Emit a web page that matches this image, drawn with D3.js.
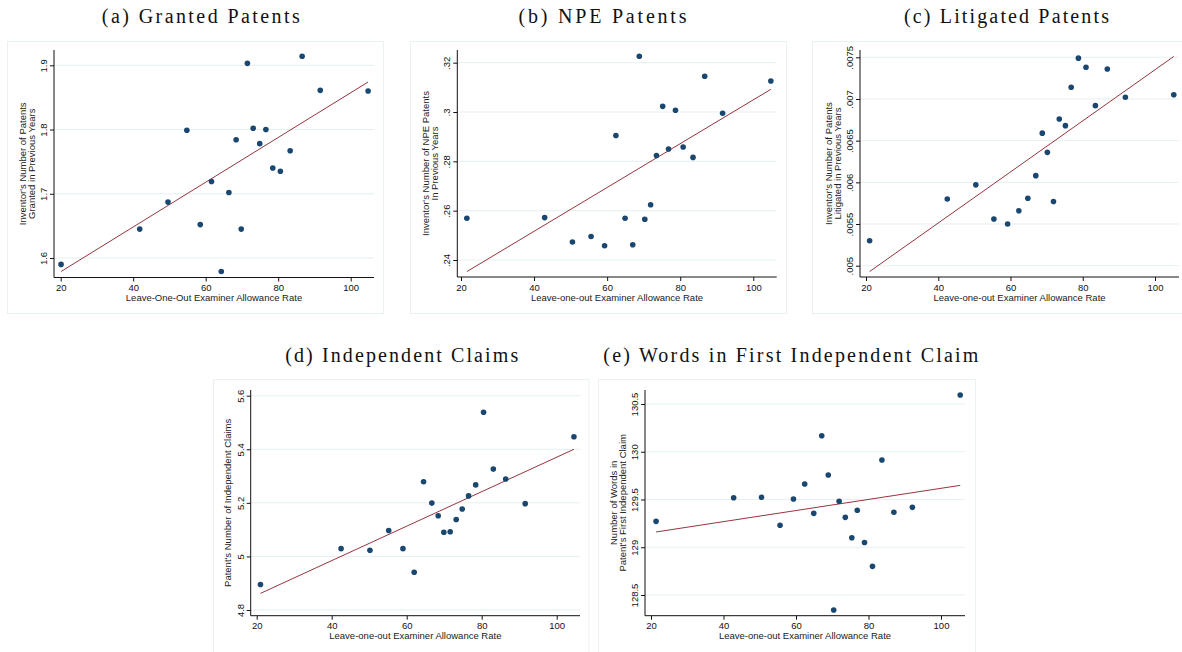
<!DOCTYPE html>
<html lang="en">
<head>
<meta charset="utf-8">
<title>Allowance rate binscatters</title>
<script src="https://cdn.jsdelivr.net/npm/d3@7"></script>
<style>
  body { margin: 0; background: #fff; }
</style>
</head>
<body>
<div id="chart"></div>
<script>
// shared x ticks (leave-one-out examiner allowance rate)
let xTicks = [20, 40, 60, 80, 100]

// (a) granted patents
let grantedX = [20.1, 41.8, 49.6, 54.8, 58.5, 61.6, 64.3, 66.4, 68.4, 69.8, 71.5, 73.1, 74.9, 76.6, 78.5, 80.6, 83.3, 86.6, 91.6, 104.8]
let grantedY = [1.590, 1.645, 1.687, 1.799, 1.652, 1.719, 1.579, 1.702, 1.784, 1.645, 1.903, 1.802, 1.778, 1.800, 1.740, 1.735, 1.767, 1.914, 1.861, 1.860]
let grantedFitX = [20.1, 104.8]
let grantedFitY = [1.579, 1.874]
let grantedTicks = [1.6, 1.7, 1.8, 1.9]
let grantedTickLabels = ['1.6', '1.7', '1.8', '1.9']

// (b) NPE patents
let npeX = [21.6, 42.9, 50.5, 55.6, 59.3, 62.4, 64.9, 67.0, 68.8, 70.3, 71.9, 73.5, 75.2, 76.8, 78.7, 80.8, 83.5, 86.7, 91.6, 104.8]
let npeY = [.2569, .2572, .2473, .2495, .2458, .2905, .2569, .2462, .3226, .2565, .2624, .2824, .3023, .2850, .3007, .2858, .2816, .3145, .2995, .3126]
let npeFitX = [21.6, 104.8]
let npeFitY = [.2353, .3092]
let npeTicks = [.24, .26, .28, .30, .32]
let npeTickLabels = ['.24', '.26', '.28', '.3', '.32']

// (c) litigated patents
let litX = [21.0, 42.5, 50.4, 55.4, 59.2, 62.3, 64.8, 67.0, 68.8, 70.2, 71.9, 73.5, 75.2, 76.8, 78.8, 80.9, 83.5, 86.8, 91.8, 105.2]
let litY = [.00530, .00580, .00597, .00556, .00550, .00566, .00581, .00608, .00659, .00636, .00577, .00676, .00668, .00714, .00749, .00738, .00692, .00736, .00702, .00705]
let litFitX = [21.0, 105.2]
let litFitY = [.00493, .00751]
let litTicks = [.005, .0055, .006, .0065, .007, .0075]
let litTickLabels = ['.005', '.0055', '.006', '.0065', '.007', '.0075']

// (d) independent claims
let claimsX = [21.0, 42.5, 50.2, 55.2, 59.0, 62.0, 64.5, 66.7, 68.4, 69.9, 71.6, 73.2, 74.8, 76.5, 78.4, 80.5, 83.1, 86.4, 91.6, 104.6]
let claimsY = [4.895, 5.029, 5.023, 5.097, 5.029, 4.941, 5.279, 5.199, 5.152, 5.090, 5.092, 5.138, 5.177, 5.226, 5.267, 5.538, 5.326, 5.289, 5.197, 5.447]
let claimsFitX = [21.0, 104.6]
let claimsFitY = [4.862, 5.400]
let claimsTicks = [4.8, 5.0, 5.2, 5.4, 5.6]
let claimsTickLabels = ['4.8', '5', '5.2', '5.4', '5.6']

// (e) words in first independent claim
let wordsX = [21.4, 42.8, 50.5, 55.6, 59.3, 62.4, 64.9, 67.1, 68.9, 70.4, 71.9, 73.6, 75.4, 76.9, 78.9, 81.1, 83.7, 87.0, 92.1, 105.3]
let wordsY = [129.271, 129.519, 129.523, 129.230, 129.505, 129.662, 129.355, 130.168, 129.757, 128.343, 129.481, 129.313, 129.100, 129.387, 129.050, 128.800, 129.914, 129.366, 129.418, 130.594]
let wordsFitX = [21.4, 105.3]
let wordsFitY = [129.160, 129.648]
let wordsTicks = [128.5, 129, 129.5, 130, 130.5]
let wordsTickLabels = ['128.5', '129', '129.5', '130', '130.5']

let sans = "'Liberation Sans', Arial, sans-serif"
let serif = "'Liberation Serif', 'Times New Roman', serif"

let panels = [
  { title: '(a) Granted Patents', tx: 200.8, ty: 23.3, tw: 198,
    frame: [7.5, 41.5, 383.5, 313.5], plot: [54, 50, 374, 277.5], xPx: [60.7, 350.7], yPx: [258, 65.3],
    xs: grantedX, ys: grantedY, fx: grantedFitX, fy: grantedFitY, ticks: grantedTicks, labels: grantedTickLabels,
    ytitle: ["Inventor's Number of Patents", 'Granted in Previous Years'],
    xtitle: 'Leave-One-Out Examiner Allowance Rate' },
  { title: '(b) NPE Patents', tx: 602.5, ty: 23.3, tw: 168,
    frame: [410.5, 41.5, 786.5, 313.5], plot: [457.3, 50, 776.7, 277], xPx: [461, 753.3], yPx: [260, 62.7],
    xs: npeX, ys: npeY, fx: npeFitX, fy: npeFitY, ticks: npeTicks, labels: npeTickLabels,
    ytitle: ["Inventor's Number of NPE Patents", 'In Previous Years'],
    xtitle: 'Leave-one-out Examiner Allowance Rate' },
  { title: '(c) Litigated Patents', tx: 1006.5, ty: 23.3, tw: 205,
    frame: [812.5, 41.5, 1195, 313.5], plot: [860, 50, 1179, 277], xPx: [866, 1155], yPx: [265.7, 57.3],
    xs: litX, ys: litY, fx: litFitX, fy: litFitY, ticks: litTicks, labels: litTickLabels,
    ytitle: ["Inventor's Number of Patents", 'Litigated in Previous Years'],
    xtitle: 'Leave-one-out Examiner Allowance Rate' },
  { title: '(d) Independent Claims', tx: 401.7, ty: 362.3, tw: 233,
    frame: [213.5, 379.5, 589, 670], plot: [250.7, 390, 580, 615.7], xPx: [256.7, 556.7], yPx: [610, 395.7],
    xs: claimsX, ys: claimsY, fx: claimsFitX, fy: claimsFitY, ticks: claimsTicks, labels: claimsTickLabels,
    ytitle: ["Patent's Number of Independent Claims"],
    xtitle: 'Leave-one-out Examiner Allowance Rate' },
  { title: '(e) Words in First Independent Claim', tx: 790.8, ty: 362.3, tw: 375,
    frame: [598.5, 379.5, 975.5, 670], plot: [645, 390, 965, 615.7], xPx: [651, 941], yPx: [595, 404],
    xs: wordsX, ys: wordsY, fx: wordsFitX, fy: wordsFitY, ticks: wordsTicks, labels: wordsTickLabels,
    ytitle: ['Number of Words in', "Patent's First Independent Claim"],
    xtitle: 'Leave-one-out Examiner Allowance Rate' }
]

let svg = d3.select('#chart').append('svg')
  .attr('width', 1182)
  .attr('height', 652)

panels.forEach((p) => {
  let [L, T, R, B] = p.plot
  let x = d3.scaleLinear().domain([20, 100]).range(p.xPx)
  let t0 = p.ticks[0], t1 = p.ticks[p.ticks.length - 1]
  let y = d3.scaleLinear().domain([t0, t1]).range(p.yPx)
  let g = svg.append('g')

  g.append('text')
    .attr('x', p.tx)
    .attr('y', p.ty)
    .attr('text-anchor', 'middle')
    .attr('font-family', serif)
    .attr('font-size', 20)
    .attr('textLength', p.tw)
    .attr('lengthAdjust', 'spacing')
    .attr('fill', '#111')
    .text(p.title)

  g.append('rect')
    .attr('x', p.frame[0])
    .attr('y', p.frame[1])
    .attr('width', p.frame[2] - p.frame[0])
    .attr('height', p.frame[3] - p.frame[1])
    .attr('fill', 'none')
    .attr('stroke', '#e9f1f3')

  // gridlines at y ticks
  g.selectAll('line.grid')
    .data(p.ticks)
    .enter()
    .append('line')
    .attr('class', 'grid')
    .attr('x1', L)
    .attr('x2', R)
    .attr('y1', (d) => y(d))
    .attr('y2', (d) => y(d))
    .attr('stroke', '#e6eff1')

  // fit line
  g.append('line')
    .attr('x1', x(p.fx[0]))
    .attr('y1', y(p.fy[0]))
    .attr('x2', x(p.fx[1]))
    .attr('y2', y(p.fy[1]))
    .attr('stroke', '#96353d')
    .attr('stroke-width', 1)

  g.selectAll('circle')
    .data(p.xs.map((v, i) => [v, p.ys[i]]))
    .enter()
    .append('circle')
    .attr('cx', (d) => x(d[0]))
    .attr('cy', (d) => y(d[1]))
    .attr('r', 2.8)
    .attr('fill', '#1a476f')

  // x axis
  let gx = g.append('g')
    .attr('transform', 'translate(0,' + B + ')')
    .call(d3.axisBottom(x).tickValues(xTicks).tickSize(4).tickSizeOuter(0))
    .attr('font-family', sans)
    .attr('font-size', 9.5)
    .attr('color', '#111')
  gx.select('.domain').remove()

  // y axis, labels turned vertical
  let gy = g.append('g')
    .attr('transform', 'translate(' + L + ',0)')
    .call(d3.axisLeft(y).tickValues(p.ticks).tickSize(4).tickSizeOuter(0)
      .tickFormat((d, i) => p.labels[i]))
    .attr('font-family', sans)
    .attr('font-size', 9.5)
    .attr('color', '#111')
  gy.select('.domain').remove()
  gy.selectAll('text')
    .attr('x', 0)
    .attr('dy', 0)
    .attr('text-anchor', 'middle')
    .attr('transform', 'translate(-7,0) rotate(-90)')

  g.append('line')
    .attr('x1', L).attr('x2', L)
    .attr('y1', T).attr('y2', B)
    .attr('stroke', '#111')
  g.append('line')
    .attr('x1', L).attr('x2', R)
    .attr('y1', B).attr('y2', B)
    .attr('stroke', '#111')

  g.append('text')
    .attr('x', (L + R) / 2)
    .attr('y', B + 23.5)
    .attr('text-anchor', 'middle')
    .attr('font-family', sans)
    .attr('font-size', 9.5)
    .attr('fill', '#222')
    .text(p.xtitle)

  let offs = p.ytitle.length == 2 ? [-28.5, -19.5] : [-19.5]
  p.ytitle.forEach((s, i) => {
    g.append('text')
      .attr('transform', 'translate(' + (L + offs[i]) + ',' + ((T + B) / 2) + ') rotate(-90)')
      .attr('text-anchor', 'middle')
      .attr('font-family', sans)
      .attr('font-size', 9.5)
      .attr('fill', '#222')
      .text(s)
  })
})
</script>
</body>
</html>
